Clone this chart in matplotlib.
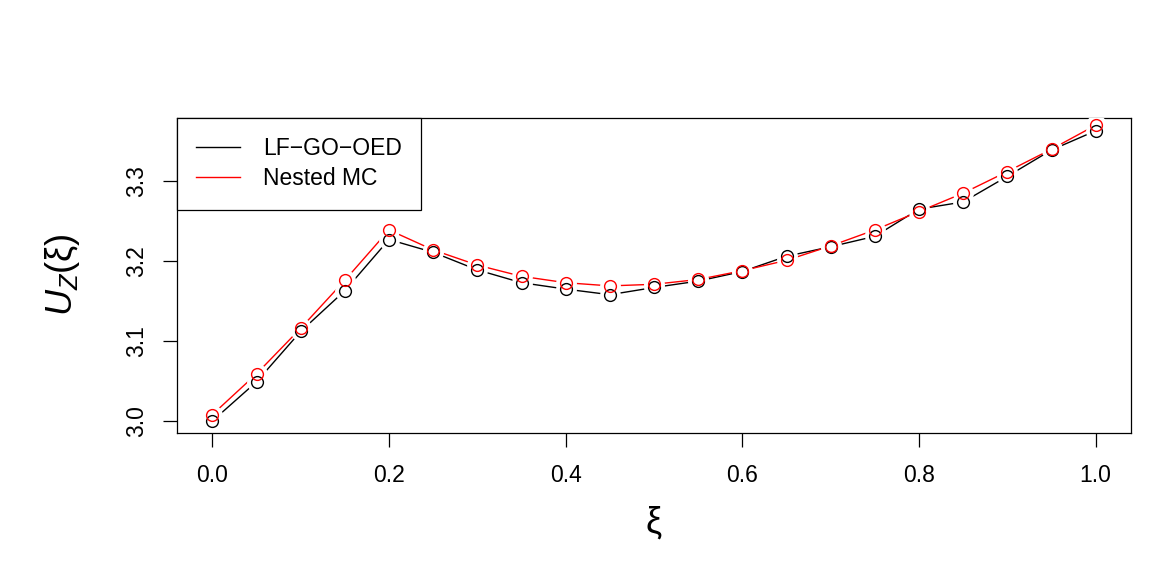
import matplotlib.pyplot as plt
import numpy as np

plt.rcParams['font.family'] = ['Liberation Sans', 'DejaVu Sans']
plt.rcParams['mathtext.fontset'] = 'custom'
plt.rcParams['mathtext.rm'] = 'Liberation Sans'
plt.rcParams['mathtext.it'] = 'Liberation Sans:italic'

# design points and utility estimates
xi = [0.00, 0.05, 0.10, 0.15, 0.20, 0.25, 0.30, 0.35, 0.40, 0.45, 0.50,
      0.55, 0.60, 0.65, 0.70, 0.75, 0.80, 0.85, 0.90, 0.95, 1.00]
lf_go_oed = [3.000, 3.049, 3.112, 3.163, 3.227, 3.211, 3.189, 3.173, 3.165, 3.158, 3.167,
             3.175, 3.187, 3.206, 3.218, 3.231, 3.265, 3.274, 3.306, 3.339, 3.363]
nested_mc = [3.008, 3.059, 3.116, 3.176, 3.239, 3.214, 3.195, 3.181, 3.173, 3.169, 3.171,
             3.177, 3.188, 3.201, 3.219, 3.239, 3.262, 3.285, 3.312, 3.340, 3.370]
series_names = ['LF\u2212GO\u2212OED', 'Nested MC']
series_colors = ['black', 'red']

fig = plt.figure(figsize=(11.63, 5.81), dpi=100)
ax = fig.add_axes([177/1163, 1 - 433/581, (1131 - 177)/1163, (433 - 118)/581])

# lines first, then white halos to leave gaps around the points (R type="b")
for ys, c, name in zip([lf_go_oed, nested_mc], series_colors, series_names):
    ax.plot(xi, ys, color=c, lw=1.0, label=name, zorder=2)
for ys in [lf_go_oed, nested_mc]:
    ax.plot(xi, ys, ls='none', marker='o', ms=15, mfc='white', mec='none', zorder=3)
for ys, c in zip([lf_go_oed, nested_mc], series_colors):
    ax.plot(xi, ys, ls='none', marker='o', ms=8.5, mfc='none', mec=c, mew=1.0, zorder=4)

ax.set_xlim(-0.04, 1.04)
ax.set_ylim(2.985, 3.379)
ax.set_xticks([0.0, 0.2, 0.4, 0.6, 0.8, 1.0])
ax.set_xticklabels(['0.0', '0.2', '0.4', '0.6', '0.8', '1.0'])
ax.set_yticks([3.0, 3.1, 3.2, 3.3])
ax.set_yticklabels(['3.0', '3.1', '3.2', '3.3'], rotation=90, va='center')
ax.tick_params(direction='out', length=10, width=0.9, labelsize=16.5, pad=12)
ax.tick_params(axis='y', pad=11)
for s in ax.spines.values():
    s.set_linewidth(0.9)

leg = ax.legend(loc='upper left', bbox_to_anchor=(0, 1), borderaxespad=0, fontsize=16.5,
                fancybox=False, edgecolor='black', framealpha=1, handlelength=1.9,
                handletextpad=1.0, borderpad=0.85, labelspacing=0.3)
leg.get_frame().set_linewidth(0.9)

fig.text(654/1163, 1 - 523/581, '\u03be', fontsize=26, ha='center', va='center')
fig.text(63/1163, 1 - 275/581, '$U_Z$(\u03be)', fontsize=26, ha='center', va='center', rotation=90)

fig.savefig('out.png', dpi=100)
